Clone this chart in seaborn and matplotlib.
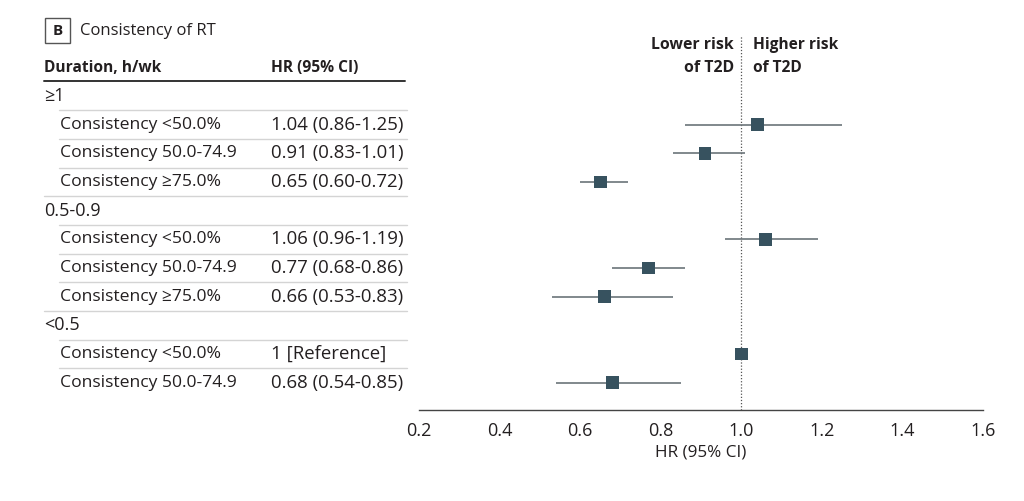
import numpy as np
import pandas as pd
import matplotlib
matplotlib.use("Agg")
import matplotlib.pyplot as plt
import matplotlib.transforms as mtransforms
from matplotlib.patches import Rectangle
import seaborn as sns

# -------------------------
# Data
# -------------------------
row_labels = [
    "≥1",
    "Consistency <50.0%",
    "Consistency 50.0-74.9",
    "Consistency ≥75.0%",
    "0.5-0.9",
    "Consistency <50.0%",
    "Consistency 50.0-74.9",
    "Consistency ≥75.0%",
    "<0.5",
    "Consistency <50.0%",
    "Consistency 50.0-74.9",
]
is_group = [True, False, False, False, True, False, False, False, True, False, False]
hr = [np.nan, 1.04, 0.91, 0.65, np.nan, 1.06, 0.77, 0.66, np.nan, 1.00, 0.68]
ci_low = [np.nan, 0.86, 0.83, 0.60, np.nan, 0.96, 0.68, 0.53, np.nan, np.nan, 0.54]
ci_high = [np.nan, 1.25, 1.01, 0.72, np.nan, 1.19, 0.86, 0.83, np.nan, np.nan, 0.85]
hr_text = [
    "",
    "1.04 (0.86-1.25)",
    "0.91 (0.83-1.01)",
    "0.65 (0.60-0.72)",
    "",
    "1.06 (0.96-1.19)",
    "0.77 (0.68-0.86)",
    "0.66 (0.53-0.83)",
    "",
    "1 [Reference]",
    "0.68 (0.54-0.85)",
]
x_ticks = [0.2, 0.4, 0.6, 0.8, 1.0, 1.2, 1.4, 1.6]

df = pd.DataFrame({
    "row": np.arange(len(row_labels)),
    "label": row_labels,
    "hr": hr,
    "lo": ci_low,
    "hi": ci_high,
})

W, H = 1024, 501
TEXT = "#231f20"
SQUARE = "#37525f"
CI_COLOR = "#6b7479"
SEP = "#d4d4d4"

sns.set_theme(style="white")
plt.rcParams["font.family"] = ["Open Sans", "DejaVu Sans"]


def fx(px):
    return px / W


def fy(py):
    return 1 - py / H


# -------------------------
# Figure
# -------------------------
fig = plt.figure(figsize=(W / 100, H / 100), dpi=100)
fig.patch.set_facecolor("white")

ax = fig.add_axes([fx(419), fy(410), fx(983) - fx(419), fy(81.6) - fy(410)])
ax.set_xlim(0.2, 1.6)
ax.set_ylim(10.95, -0.5)

# CI lines
ci = df.dropna(subset=["lo"])
ax.hlines(ci["row"], ci["lo"], ci["hi"], color=CI_COLOR, lw=1.2, zorder=2)

# reference line
ax.axvline(1.0, ymin=0, ymax=1.142, color="#555555", lw=0.9, ls=(0, (1, 1.5)),
           clip_on=False, zorder=1)

sns.scatterplot(data=df.dropna(subset=["hr"]), x="hr", y="row", marker="s", s=82,
                color=SQUARE, edgecolor="none", ax=ax, zorder=3, legend=False)

for side in ["top", "right", "left"]:
    ax.spines[side].set_visible(False)
ax.spines["bottom"].set_color("#444444")
ax.spines["bottom"].set_linewidth(1.0)
ax.set_yticks([])
ax.set_xticks(x_ticks)
ax.set_xticklabels([f"{t:.1f}" for t in x_ticks])
ax.tick_params(axis="x", direction="in", length=5, width=1.0, color="#444444",
               labelsize=13, labelcolor=TEXT, pad=9)
ax.set_xlabel("HR (95% CI)", fontsize=12.3, color=TEXT, labelpad=3)
ax.set_ylabel("")

# -------------------------
# Table on the left
# -------------------------
trans = mtransforms.blended_transform_factory(fig.transFigure, ax.transData)

for i, lab in enumerate(row_labels):
    if is_group[i]:
        fig.text(fx(44), i, lab, transform=trans, fontsize=13, color=TEXT,
                 va="center", ha="left")
    else:
        fig.text(fx(60), i, lab, transform=trans, fontsize=12.6, color=TEXT,
                 va="center", ha="left")
    if hr_text[i]:
        fig.text(fx(271), i, hr_text[i], transform=trans, fontsize=13.4, color=TEXT,
                 va="center", ha="left")
    if i < len(row_labels) - 1:
        start = fx(44) if is_group[i + 1] else fx(59)
        ax.plot([start, fx(407)], [i + 0.5, i + 0.5], transform=trans, color=SEP,
                lw=1.0, clip_on=False)

# header
fig.text(fx(44), fy(68), "Duration, h/wk", fontsize=11.2, fontweight="bold", color=TEXT,
         va="center", ha="left")
fig.text(fx(271), fy(68), "HR (95% CI)", fontsize=11.2, fontweight="bold", color=TEXT,
         va="center", ha="left")
fig.add_artist(plt.Line2D([fx(44), fx(405)], [fy(80.5), fy(80.5)], color="#333333", lw=1.4))

# panel title
fig.add_artist(Rectangle((fx(45), fy(43)), fx(70) - fx(45), fy(18) - fy(43),
                         transform=fig.transFigure, fill=False, ec="#555555", lw=1.0))
fig.text(fx(57.5), fy(31), "B", fontsize=11, fontweight="bold", color=TEXT,
         va="center", ha="center")
fig.text(fx(80), fy(31), "Consistency of RT", fontsize=12, color=TEXT,
         va="center", ha="left")

# direction labels
fig.text(fx(734), fy(45), "Lower risk", fontsize=11.4, fontweight="bold", color=TEXT,
         va="center", ha="right")
fig.text(fx(734), fy(68), "of T2D", fontsize=11.4, fontweight="bold", color=TEXT,
         va="center", ha="right")
fig.text(fx(753), fy(45), "Higher risk", fontsize=11.2, fontweight="bold", color=TEXT,
         va="center", ha="left")
fig.text(fx(753), fy(68), "of T2D", fontsize=11.2, fontweight="bold", color=TEXT,
         va="center", ha="left")

fig.savefig("out.png", dpi=100)
plt.close(fig)
